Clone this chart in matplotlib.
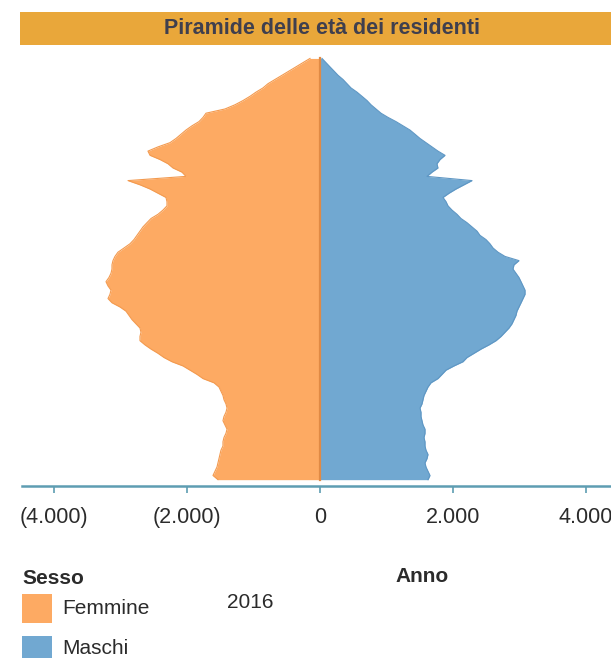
import numpy as np
import matplotlib
matplotlib.use('Agg')
import matplotlib.pyplot as plt
from matplotlib.patches import Rectangle

# ── data: residents by single year of age (2016) ──
ages = np.arange(0, 101)
femmine = [1534, 1609, 1579, 1549, 1534, 1519, 1504, 1489, 1459, 1459,
           1444, 1414, 1398, 1429, 1459, 1444, 1414, 1398, 1414, 1444,
           1459, 1489, 1519, 1594, 1759, 1850, 1955, 2060, 2226, 2346,
           2436, 2541, 2632, 2707, 2707, 2692, 2707, 2767, 2827, 2872,
           2917, 3008, 3128, 3188, 3158, 3143, 3188, 3218, 3173, 3143,
           3128, 3128, 3113, 3083, 3038, 2947, 2857, 2797, 2752, 2707,
           2662, 2602, 2541, 2436, 2361, 2301, 2301, 2316, 2436, 2556,
           2707, 2887, 2015, 2075, 2211, 2286, 2406, 2556, 2587, 2436,
           2256, 2165, 2090, 2015, 1925, 1820, 1759, 1714, 1429, 1278,
           1158, 1053, 962, 857, 782, 677, 571, 466, 361, 256,
           150]
maschi = [1624, 1654, 1624, 1594, 1579, 1609, 1624, 1594, 1579, 1579,
          1564, 1579, 1579, 1549, 1534, 1519, 1519, 1504, 1534, 1549,
          1564, 1594, 1624, 1669, 1774, 1835, 1895, 2015, 2150, 2211,
          2316, 2421, 2541, 2647, 2722, 2782, 2842, 2887, 2917, 2947,
          2962, 2992, 3023, 3053, 3083, 3083, 3053, 3023, 2992, 2947,
          2902, 2917, 2992, 2782, 2677, 2602, 2556, 2496, 2406, 2361,
          2286, 2211, 2120, 2060, 1985, 1925, 1895, 1850, 1940, 2045,
          2165, 2286, 1609, 1684, 1774, 1759, 1805, 1880, 1774, 1684,
          1594, 1504, 1429, 1353, 1248, 1143, 1023, 917, 842, 767,
          707, 632, 556, 466, 406, 346, 271, 211, 150, 90,
          30]
x_ticks = [-4000, -2000, 0, 2000, 4000]
x_labels = ["(4.000)", "(2.000)", "0", "2.000", "4.000"]
title = "Piramide delle età dei residenti"
legend_title = "Sesso"
series_names = ["Femmine", "Maschi"]
anno_title = "Anno"
anno_value = "2016"

c_fem = "#FDAA63"
c_mas = "#71A8D1"
c_bar = "#E9A73A"
c_axis = "#5E9DB2"
c_text = "#2B2B2B"

W, H = 611, 658
plt.rcParams['font.family'] = ['Liberation Sans', 'DejaVu Sans']


def fx(px):
    return px / W


def fy(py):
    return 1 - py / H


fig = plt.figure(figsize=(W / 100, H / 100), dpi=100)

# title bar
fig.patches.append(Rectangle((fx(20), fy(45)), fx(W + 20) - fx(20), fy(12) - fy(45),
                             transform=fig.transFigure, facecolor=c_bar,
                             edgecolor="none", zorder=0))
fig.text(fx(322), fy(29), title, ha="center", va="center", fontsize=15.5,
         fontweight="bold", color="#3F3F4E")

ax = fig.add_axes([fx(22), fy(486), 1 - fx(22), fy(50) - fy(486)])
fem = -np.array(femmine)
mas = np.array(maschi)
ax.fill_betweenx(ages, fem, 0, color=c_fem, lw=0, zorder=2)
ax.fill_betweenx(ages, 0, mas, color=c_mas, lw=0, zorder=2)
ax.plot(fem, ages, color="#F39A4F", lw=0.8, zorder=3)
ax.plot(mas, ages, color="#5F97C4", lw=0.8, zorder=3)
ax.plot([0, 0], [0, 100], color="#E08A45", lw=1.6, zorder=4)

ax.set_xlim(-4481, 4376)
ax.set_ylim(-1.5, 102)
ax.set_xticks(x_ticks)
ax.set_xticklabels(x_labels)
ax.set_yticks([])
for s in ["top", "right", "left"]:
    ax.spines[s].set_visible(False)
ax.spines["bottom"].set_color(c_axis)
ax.spines["bottom"].set_linewidth(1.8)
ax.tick_params(axis="x", colors=c_axis, length=5, width=1.2, pad=10,
               labelsize=15.5, labelcolor=c_text)

# legend block
fig.text(fx(22), fy(578), legend_title, ha="left", va="center", fontsize=15,
         fontweight="bold", color=c_text)
fig.patches.append(Rectangle((fx(22), fy(623)), fx(30), fy(594) - fy(623),
                             transform=fig.transFigure, facecolor=c_fem,
                             edgecolor="none"))
fig.patches.append(Rectangle((fx(22), fy(665)), fx(30), fy(636) - fy(665),
                             transform=fig.transFigure, facecolor=c_mas,
                             edgecolor="none"))
fig.text(fx(62), fy(609), series_names[0], ha="left", va="center",
         fontsize=15, color=c_text)
fig.text(fx(62), fy(649), series_names[1], ha="left", va="center",
         fontsize=15, color=c_text)
fig.text(fx(395), fy(576), anno_title, ha="left", va="center", fontsize=15,
         fontweight="bold", color=c_text)
fig.text(fx(227), fy(602), anno_value, ha="left", va="center", fontsize=15,
         color=c_text)

fig.savefig("out.png", dpi=100)
